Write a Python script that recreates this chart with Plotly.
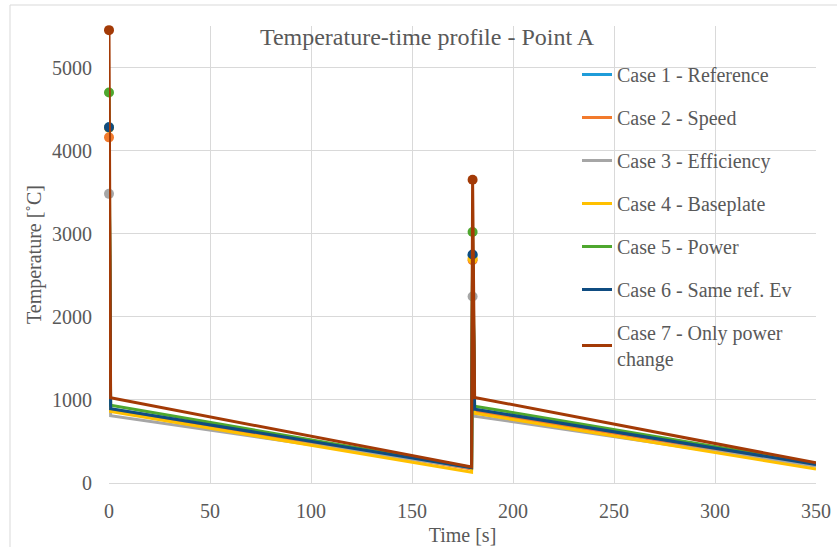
import plotly.graph_objects as go

# Time stamps of each profile point [s]: first peak, cool-down start,
# end of first cooling, second peak, cool-down start, end of record
time_s = [0, 0.8, 179.5, 180, 181, 350]

case_names = [
    "Case 1 - Reference",
    "Case 2 - Speed",
    "Case 3 - Efficiency",
    "Case 4 - Baseplate",
    "Case 5 - Power",
    "Case 6 - Same ref. Ev",
    "Case 7 - Only power<br>change",
]
case_colors = ["#1F9CD9", "#F27A2C", "#A6A6A6", "#FFC000", "#4EA72E", "#0F4C81", "#A33A06"]

# Temperatures [°C] at the time stamps above
case1 = [4280, 890, 183, 2740, 885, 226]
case2 = [4160, 870, 170, 2680, 860, 215]
case3 = [3480, 810, 180, 2245, 805, 200]
case4 = [4275, 860, 130, 2700, 840, 168]
case5 = [4700, 935, 186, 3020, 925, 235]
case6 = [4280, 895, 185, 2750, 888, 222]
case7 = [5450, 1025, 192, 3650, 1030, 243]
cases = [case1, case2, case3, case4, case5, case6, case7]

# Indices of the peak points that carry a marker
peak_idx = [0, 3]

x_ticks = [0, 50, 100, 150, 200, 250, 300, 350]
y_ticks = [0, 1000, 2000, 3000, 4000, 5000]

FONT = "Liberation Serif, Times New Roman, serif"
TXT = "#595959"
GRID = "#D9D9D9"

fig = go.Figure()
for i, (name, color, temps) in enumerate(zip(case_names, case_colors, cases)):
    fig.add_trace(go.Scatter(
        x=time_s, y=temps, mode="lines", name=name,
        line=dict(color=color, width=3),
        legendgroup=f"g{i}", cliponaxis=False,
    ))
    fig.add_trace(go.Scatter(
        x=[time_s[k] for k in peak_idx], y=[temps[k] for k in peak_idx],
        mode="markers", marker=dict(color=color, size=10),
        showlegend=False, legendgroup=f"g{i}", hoverinfo="skip",
        cliponaxis=False,
    ))

fig.update_layout(
    width=837, height=547,
    margin=dict(l=109, r=21, t=26, b=64, autoexpand=False),
    paper_bgcolor="white", plot_bgcolor="white",
    font=dict(family=FONT, size=20, color=TXT),
    title=dict(
        text="Temperature-time profile - Point A",
        x=427 / 837, xanchor="center", xref="container",
        y=1 - 37 / 547, yanchor="middle", yref="container",
        font=dict(family=FONT, size=24, color=TXT),
    ),
    legend=dict(
        x=(577 - 109) / 707, xanchor="left",
        y=(483 - 55) / 457, yanchor="top",
        bgcolor="rgba(0,0,0,0)", borderwidth=0,
        font=dict(family=FONT, size=20, color=TXT),
        tracegroupgap=14,
    ),
    showlegend=True,
)

fig.update_xaxes(
    range=[0, 350], tickvals=x_ticks, showgrid=True, gridcolor=GRID, gridwidth=1,
    zeroline=False, showline=True, linecolor=GRID, linewidth=1,
    ticks="", ticklabelstandoff=10, automargin=False,
    title=dict(text="Time [s]", standoff=6, font=dict(family=FONT, size=20, color=TXT)),
)
fig.update_yaxes(
    range=[0, 5500], tickvals=y_ticks, showgrid=True, gridcolor=GRID, gridwidth=1,
    zeroline=False, showline=False,
    ticks="", ticklabelstandoff=16, automargin=False,
    title=dict(text="Temperature [˚C]", standoff=5, font=dict(family=FONT, size=20, color=TXT)),
)

# Outer chart frame
fig.add_shape(
    type="rect", xref="paper", yref="paper",
    x0=(10 - 109) / 707, x1=(842 - 109) / 707,
    y0=(483 - 552) / 457, y1=(483 - 5) / 457,
    line=dict(color=GRID, width=1), fillcolor="rgba(0,0,0,0)", layer="below",
)

fig.write_html("out.html")
